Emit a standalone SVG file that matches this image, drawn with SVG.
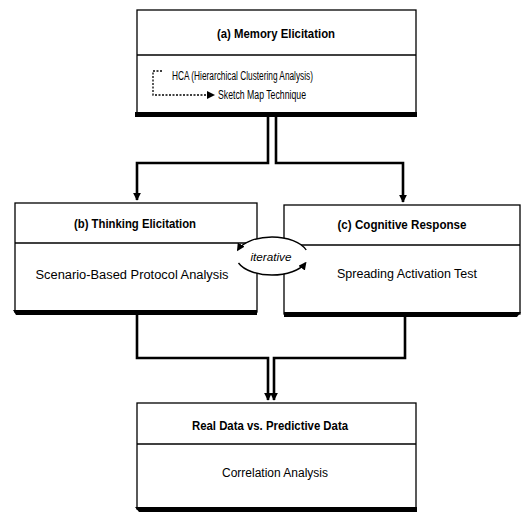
<svg xmlns="http://www.w3.org/2000/svg" width="525" height="514" viewBox="0 0 525 514">
<style>
.box{fill:#fff;stroke:#000;stroke-width:1.3}
.div{stroke:#000;stroke-width:1.5}
.sh{fill:#000}
.ti{font-family:"Liberation Sans",Arial,sans-serif;font-weight:bold;font-size:13px;text-anchor:middle;fill:#000}
.tx{font-family:"Liberation Sans",Arial,sans-serif;font-size:12px;text-anchor:middle;fill:#000}
.con{fill:none;stroke:#000;stroke-width:2.6}
</style>
<defs>
<marker id="ah" viewBox="0 0 10 10" refX="9" refY="5" markerWidth="3" markerHeight="3" orient="auto" markerUnits="strokeWidth">
<path d="M0,0 L10,5 L0,10 z" fill="#000"/>
</marker>
<marker id="ah2" viewBox="0 0 10 10" refX="8" refY="5" markerWidth="8" markerHeight="8" orient="auto" markerUnits="userSpaceOnUse">
<path d="M0,0 L10,5 L0,10 z" fill="#000"/>
</marker>
</defs>
<rect width="525" height="514" fill="#fff"/>
<g id="connectors">
<path class="con" d="M268,116 V163 H137 V200" marker-end="url(#ah)"/>
<path class="con" d="M276,116 V163 H403 V202" marker-end="url(#ah)"/>
<path class="con" d="M137,315 V358 H268 V400" marker-end="url(#ah)"/>
<path class="con" d="M405,317 V358 H274 V400" marker-end="url(#ah)"/>
</g>
<g id="nodeA">
<rect class="box" x="137" y="10" width="279" height="104"/>
<line class="div" x1="137" y1="55" x2="416" y2="55"/>
<rect class="sh" x="135" y="112" width="282" height="5"/>
<text class="ti" x="276" y="38" textLength="118" lengthAdjust="spacingAndGlyphs">(a) Memory Elicitation</text>
<text class="tx" x="172" y="80" style="text-anchor:start" textLength="141" lengthAdjust="spacingAndGlyphs">HCA (Hierarchical Clustering Analysis)</text>
<text class="tx" x="218" y="99" style="text-anchor:start" textLength="88" lengthAdjust="spacingAndGlyphs">Sketch Map Technique</text>
<path d="M162,71 H153 V95 H208" fill="none" stroke="#000" stroke-width="1.3" stroke-dasharray="2,1.5"/>
<path d="M207,91 L215,95 L207,99 z" fill="#000"/>
</g>
<g id="nodeB">
<rect class="box" x="15" y="203" width="242" height="109"/>
<line class="div" x1="15" y1="243" x2="257" y2="243"/>
<path class="sh" d="M13,310 H257 V315 H16 z"/>
<text class="ti" x="135" y="228" textLength="122" lengthAdjust="spacingAndGlyphs">(b) Thinking Elicitation</text>
<text class="tx" x="132" y="279" textLength="193" lengthAdjust="spacingAndGlyphs">Scenario-Based Protocol Analysis</text>
</g>
<g id="nodeC">
<rect class="box" x="284" y="205" width="236" height="109"/>
<line class="div" x1="284" y1="245" x2="520" y2="245"/>
<path class="sh" d="M284,312 H521 L517,317 H284 z"/>
<text class="ti" x="402" y="229" textLength="129" lengthAdjust="spacingAndGlyphs">(c) Cognitive Response</text>
<text class="tx" x="407" y="278" textLength="140" lengthAdjust="spacingAndGlyphs">Spreading Activation Test</text>
</g>
<g id="nodeD">
<rect class="box" x="137" y="403" width="279" height="106"/>
<line class="div" x1="137" y1="444" x2="416" y2="444"/>
<path class="sh" d="M135,507 H417 V512 H139 z"/>
<text class="ti" x="270" y="430" textLength="156" lengthAdjust="spacingAndGlyphs">Real Data vs. Predictive Data</text>
<text class="tx" x="275" y="477" textLength="106" lengthAdjust="spacingAndGlyphs">Correlation Analysis</text>
</g>
<g id="iterative">
<ellipse cx="272" cy="256" rx="36" ry="19" fill="#fff" stroke="none"/>
<path d="M306.2,250 A36,19 0 0 0 237.8,250" fill="none" stroke="#000" stroke-width="1.4" marker-end="url(#ah2)"/>
<path d="M238.5,263 A36,19 0 0 0 305.5,263" fill="none" stroke="#000" stroke-width="1.4" marker-end="url(#ah2)"/>
<text x="271" y="261" style="font-family:'Liberation Sans',Arial,sans-serif;font-style:italic;font-size:11px;text-anchor:middle" textLength="41" lengthAdjust="spacingAndGlyphs">iterative</text>
</g>
</svg>
